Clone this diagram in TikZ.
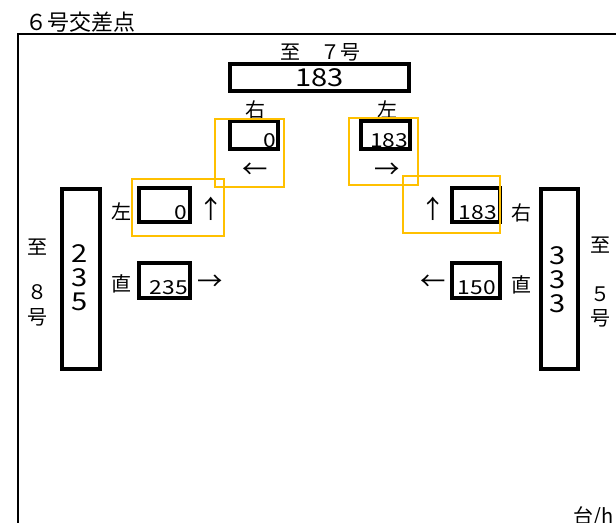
\documentclass[tikz,border=0pt]{standalone}
\usepackage{fontspec}
\setmainfont{Noto Sans CJK JP}
\newfontfamily\digitfont[FakeStretch=1.18]{Noto Sans CJK JP}
\definecolor{ylw}{HTML}{FFC000}
\tikzset{
  bbox/.style={draw=black, line width=3pt, inner sep=0pt},
  ybox/.style={draw=ylw, line width=1.5pt, inner sep=0pt},
  lbl/.style={inner sep=0pt, font=\fontsize{15}{15}\selectfont},
  big/.style={inner sep=0pt, font=\digitfont\fontsize{18.5}{18.5}\selectfont},
  val/.style={inner sep=0pt, anchor=base east, font=\digitfont\fontsize{14.5}{14.5}\selectfont},
  arr/.style={inner sep=0pt, font=\fontsize{19}{19}\selectfont},
}
\begin{document}
\begin{tikzpicture}[x=0.75pt,y=-0.75pt]
\useasboundingbox (0,0) rectangle (616,522);
\clip (0,0) rectangle (616,522);
% frame
\coordinate (fb) at (18,530);
\coordinate (fc) at (18,34);
\coordinate (fr) at (630,34);
\draw[line width=1.5pt] (fb) -- (fc) -- (fr);
\node[lbl, anchor=west, font=\fontsize{16.5}{16.5}\selectfont] (title) at (25,22) {６号交差点};
% top
\node[lbl] (to7) at (320,52) {至　７号};
\node[bbox, minimum width=179*0.75pt, minimum height=27*0.75pt] (top) at (319.5,77.5) {};
\node[big] (topv) at (top.center) {183};
\node[lbl] (rlbl) at (255,110) {右};
\node[lbl] (llbl) at (387,110) {左};
% top-left turn
\node[bbox, minimum width=48*0.75pt, minimum height=28*0.75pt] (tl) at (254,135) {};
\node[val] (tlv) at (276,147.5) {0};
\node[arr] (tla) at (255,171) {←};
\node[ybox, minimum width=69*0.75pt, minimum height=68*0.75pt] (tly) at (249.5,153) {};
% top-right turn
\node[bbox, minimum width=49*0.75pt, minimum height=28*0.75pt] (tr) at (385.5,135) {};
\node[val] (trv) at (408.5,147.5) {183};
\node[arr] (tra) at (387,171) {→};
\node[ybox, minimum width=69*0.75pt, minimum height=67*0.75pt] (try) at (383.5,151.5) {};
% left middle
\node[bbox, minimum width=51*0.75pt, minimum height=34*0.75pt] (lm) at (164.5,205) {};
\node[val] (lmv) at (187.5,219.5) {0};
\node[arr] (lma) at (211,209) {↑};
\node[ybox, minimum width=92*0.75pt, minimum height=57*0.75pt] (lmy) at (178,207.5) {};
\node[lbl] (lml) at (121.5,212) {左};
% right middle
\node[bbox, minimum width=48*0.75pt, minimum height=34*0.75pt] (rm) at (476,205) {};
\node[val] (rmv) at (497,219.5) {183};
\node[arr] (rma) at (433,209) {↑};
\node[ybox, minimum width=97*0.75pt, minimum height=57*0.75pt] (rmy) at (451.5,204.5) {};
\node[lbl] (rml) at (521,213) {右};
% straight
\node[bbox, minimum width=51*0.75pt, minimum height=35*0.75pt] (ls) at (164.5,280.5) {};
\node[val] (lsv) at (188,294) {235};
\node[arr] (lsa) at (210,283) {→};
\node[lbl] (lsl) at (121.5,284) {直};
\node[bbox, minimum width=48*0.75pt, minimum height=35*0.75pt] (rs) at (476,280.5) {};
\node[val] (rsv) at (496,294) {150};
\node[arr] (rsa) at (433,283) {←};
\node[lbl] (rsl) at (521,285) {直};
% tall boxes
\node[bbox, minimum width=38*0.75pt, minimum height=180*0.75pt] (lt) at (81,279) {};
\node[big] (lt1) at (79.5,254) {2};
\node[big] (lt2) at (79.5,278) {3};
\node[big] (lt3) at (79.5,302) {5};
\node[bbox, minimum width=37*0.75pt, minimum height=180*0.75pt] (rt) at (559.5,279) {};
\node[big] (rt1) at (558,256) {3};
\node[big] (rt2) at (558,280) {3};
\node[big] (rt3) at (558,304) {3};
% side labels
\node[lbl] (l1) at (37,247) {至};
\node[lbl] (l2) at (37,292) {８};
\node[lbl] (l3) at (37,317) {号};
\node[lbl] (r1) at (600,245) {至};
\node[lbl] (r2) at (600,294) {５};
\node[lbl] (r3) at (600,318) {号};
% unit
\node[lbl, anchor=north west] (unit) at (573,506) {台/h};
\end{tikzpicture}
\end{document}
